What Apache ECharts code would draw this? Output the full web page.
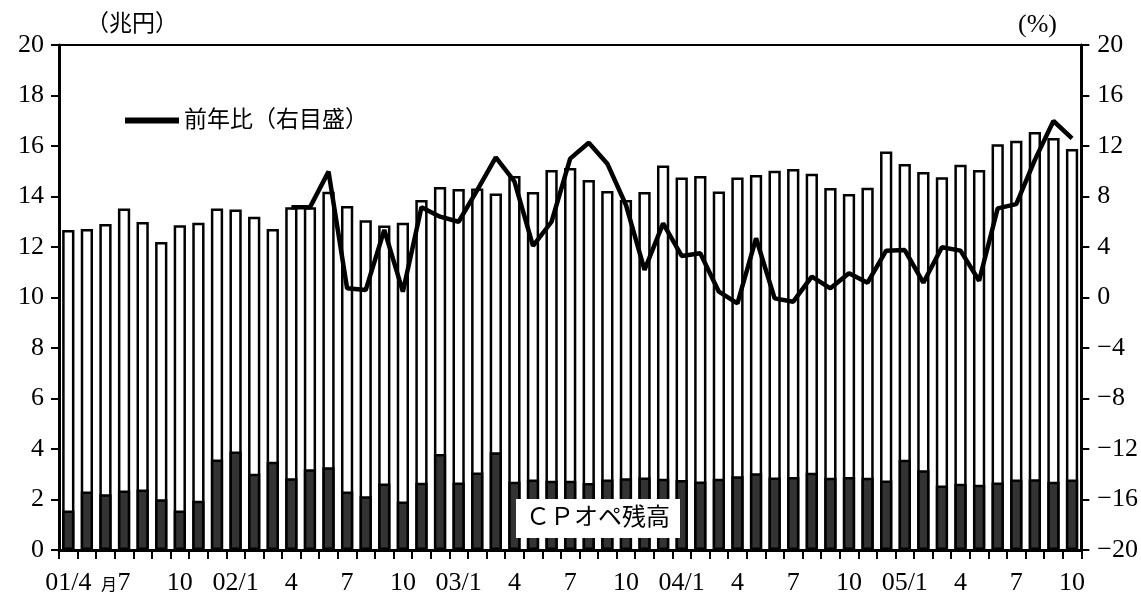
<!DOCTYPE html>
<html>
<head>
<meta charset="utf-8">
<script src="https://cdn.jsdelivr.net/npm/echarts@6/dist/echarts.min.js"></script>
<style>
html, body { margin: 0; padding: 0; background: #fff; }
#chart1 { width: 1141px; height: 597px; }
</style>
</head>
<body>
<div id="chart1"></div>
<script>
// months 2001/4 - 2005/10
var categories = ['01/4','5','6','7','8','9','10','11','12',
	'02/1','2','3','4','5','6','7','8','9','10','11','12',
	'03/1','2','3','4','5','6','7','8','9','10','11','12',
	'04/1','2','3','4','5','6','7','8','9','10','11','12',
	'05/1','2','3','4','5','6','7','8','9','10'];

// total (white bar), 兆円
var totalValues = [12.67, 12.71, 12.91, 13.52, 12.99, 12.2, 12.86, 12.96, 13.52,
	13.49, 13.2, 12.71, 13.57, 13.57, 14.19, 13.62, 13.06, 12.85, 12.96,
	13.86, 14.38, 14.3, 14.32, 14.12, 14.81, 14.18, 15.05, 15.13, 14.65, 14.22, 13.86,
	14.18, 15.23, 14.75, 14.81, 14.2, 14.75, 14.85, 15.02, 15.09, 14.9, 14.34, 14.1,
	14.35, 15.78, 15.29, 14.97, 14.76, 15.26, 15.05, 16.07, 16.21, 16.55, 16.32, 15.88];

// CPオペ残高 (dark bar), 兆円
var cpValues = [1.56, 2.32, 2.21, 2.36, 2.4, 2.01, 1.56, 1.95, 3.58,
	3.9, 3.02, 3.5, 2.84, 3.2, 3.28, 2.32, 2.13, 2.63, 1.92,
	2.66, 3.8, 2.67, 3.07, 3.87, 2.7, 2.79, 2.74, 2.74, 2.65, 2.79, 2.84,
	2.87, 2.82, 2.77, 2.71, 2.82, 2.92, 3.04, 2.87, 2.89, 3.06, 2.86, 2.89,
	2.86, 2.75, 3.57, 3.16, 2.55, 2.62, 2.58, 2.67, 2.79, 2.8, 2.7, 2.79];

// 前年比 (%), right axis, starts 02/4
var yoyValues = ['-', '-', '-', '-', '-', '-', '-', '-', '-',
	'-', '-', '-', 7.14, 7.14, 9.97, 0.73, 0.59, 5.35, 0.46,
	7.14, 6.4, 6.0, 8.5, 11.1, 9.2, 4.08, 6.0, 11.0, 12.26, 10.6, 7.33,
	2.18, 5.87, 3.29, 3.5, 0.46, -0.46, 4.69, -0.07, -0.33, 1.65, 0.73, 1.92,
	1.17, 3.71, 3.76, 1.17, 3.98, 3.71, 1.33, 7.06, 7.4, 10.9, 13.98, 12.6];

var lineName = '前年比（右目盛）';
var fontFam = '"Liberation Serif", "Noto Sans CJK JP", serif';

var chart = document.getElementById('chart1');
var myChart = echarts.init(chart);

var option = {
	animation: false,
	backgroundColor: '#fff',
	textStyle: { fontFamily: fontFam, color: '#000' },
	grid: {
		left: 59,
		right: 59,
		top: 45,
		bottom: 47,
		show: true,
		borderColor: '#000',
		borderWidth: 2
	},
	legend: {
		data: [{ name: lineName, icon: 'rect' }],
		left: 120,
		top: 104,
		itemWidth: 54,
		itemHeight: 6,
		textStyle: { fontSize: 23, color: '#000', fontFamily: fontFam }
	},
	graphic: [
		{ type: 'text', left: 86, top: 13, style: { text: '（兆円）', fontSize: 23, fill: '#000', fontFamily: fontFam } },
		{ type: 'text', left: 1018, top: 12, style: { text: '(%)', fontSize: 26, fill: '#000', fontFamily: fontFam } },
		{ type: 'text', left: 101, top: 578, style: { text: '月', fontSize: 16, fill: '#000', fontFamily: fontFam } },
		{
			type: 'text', left: 516, top: 499, z: 100,
			style: {
				text: 'ＣＰオペ残高', fontSize: 24, fill: '#000', fontFamily: fontFam,
				backgroundColor: '#fff', padding: [8, 10, 7, 10]
			}
		}
	],
	xAxis: {
		type: 'category',
		data: categories,
		boundaryGap: true,
		axisLine: { lineStyle: { color: '#000', width: 3 } },
		axisTick: { show: true, interval: 0, inside: false, length: 9, lineStyle: { color: '#000', width: 2 } },
		axisLabel: { interval: 2, fontSize: 26, color: '#000', margin: 20, fontFamily: fontFam }
	},
	yAxis: [{
		type: 'value',
		min: 0,
		max: 20,
		interval: 2,
		splitLine: { show: false },
		axisLine: { show: true, lineStyle: { color: '#000', width: 3 } },
		axisTick: { show: true, length: 8, lineStyle: { color: '#000', width: 2 } },
		axisLabel: { fontSize: 26, color: '#000', margin: 15, fontFamily: fontFam }
	}, {
		type: 'value',
		min: -20,
		max: 20,
		interval: 4,
		position: 'right',
		splitLine: { show: false },
		axisLine: { show: true, lineStyle: { color: '#000', width: 3 } },
		axisTick: { show: true, length: 8, lineStyle: { color: '#000', width: 2 } },
		axisLabel: {
			fontSize: 26, color: '#000', margin: 16, fontFamily: fontFam,
			formatter: function (v) { return String(v).replace('-', '−'); }
		}
	}],
	series: [{
		name: '残高',
		type: 'bar',
		data: totalValues,
		barCategoryGap: '34%',
		itemStyle: { color: '#fff', borderColor: '#000', borderWidth: 2.5 }
	}, {
		name: 'ＣＰオペ残高',
		type: 'bar',
		data: cpValues,
		barGap: '-100%',
		itemStyle: { color: '#333', borderColor: '#000', borderWidth: 2.5 }
	}, {
		name: lineName,
		type: 'line',
		yAxisIndex: 1,
		data: yoyValues,
		showSymbol: false,
		symbol: 'none',
		z: 10,
		lineStyle: { color: '#000', width: 4.5 },
		itemStyle: { color: '#000' }
	}]
};
myChart.setOption(option);
</script>
</body>
</html>
